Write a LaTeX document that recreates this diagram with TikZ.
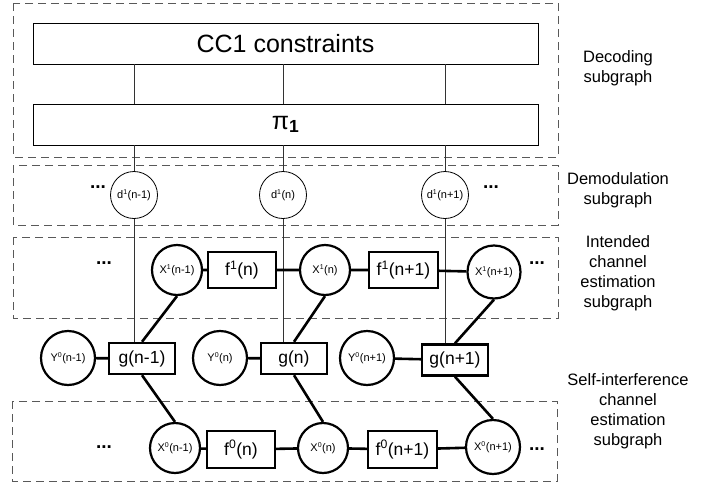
\documentclass[tikz,border=0pt]{standalone}
\usepackage{fontspec}
\setmainfont{Liberation Sans}
\usetikzlibrary{calc}

% small raised index used inside the variable nodes
\newcommand{\upidx}[1]{\textsuperscript{\fontsize{7}{8}\selectfont #1}}

\tikzset{
  var/.style={circle, draw, line width=2.2pt, minimum size=50pt, inner sep=0pt,
    font=\fontsize{11}{12}\selectfont},
  demod/.style={circle, draw, line width=0.8pt, minimum size=47pt, inner sep=0pt,
    font=\fontsize{11}{12}\selectfont},
  fac/.style={rectangle, draw, line width=2.4pt, minimum width=68pt, minimum height=36pt,
    inner sep=0pt, font=\fontsize{17.5}{20}\selectfont},
  gfac/.style={fac, minimum width=66pt, minimum height=31pt},
  bigbox/.style={rectangle, draw, line width=0.9pt, minimum width=505pt, minimum height=41pt,
    inner sep=0pt, font=\fontsize{25}{28}\selectfont},
  subbox/.style={draw=black!65, dash pattern=on 8pt off 5pt, line width=0.9pt},
  edge/.style={line width=2.6pt},
  wire/.style={black!80, line width=0.8pt},
  lbl/.style={align=center, font=\fontsize{16.5}{20}\selectfont},
  dots/.style={font=\bfseries\fontsize{19}{19}\selectfont, inner sep=0pt}
}

\begin{document}
\begin{tikzpicture}[x=1pt, y=-1pt]
  \useasboundingbox (0,0) rectangle (721,485);

  % subgraph frames
  \draw[subbox] (13,3) rectangle (558,157);
  \draw[subbox] (13,165) rectangle (558,225);
  \draw[subbox] (13,237) rectangle (558,318);
  \draw[subbox] (12,401) rectangle (557,481);

  \node[lbl] (labDec) at (618,68) {Decoding\\subgraph};
  \node[lbl] (labDem) at (618,190) {Demodulation\\subgraph};
  \node[lbl] (labInt) at (618,273) {Intended\\channel\\estimation\\subgraph};
  \node[lbl] (labSelf) at (628,411) {Self-interference\\channel\\estimation\\subgraph};

  % decoding part
  \node[bigbox] (cc) at (285.5,43.5) {CC1 constraints};
  \node[bigbox] (pi) at (285.5,124.5) {π\textsubscript{\bfseries 1}};

  % demodulation nodes
  \node[demod] (dA) at (134,195) {d\upidx{1}(n-1)};
  \node[demod] (dB) at (283,195) {d\upidx{1}(n)};
  \node[demod] (dC) at (445,195) {d\upidx{1}(n+1)};
  \node[dots] (dotsDL) at (98,187) {...};
  \node[dots] (dotsDR) at (491,187) {...};

  % intended channel chain
  \node[var] (xA) at (177,270) {X\upidx{1}(n-1)};
  \node[fac] (fA) at (242,270) {f\textsuperscript{1}(n)};
  \node[var] (xB) at (325,270) {X\upidx{1}(n)};
  \node[fac, minimum width=69pt] (fB) at (403.5,270) {f\textsuperscript{1}(n+1)};
  \node[var, minimum size=53pt] (xC) at (494,272) {X\upidx{1}(n+1)};
  \node[dots] (dotsIL) at (104,263) {...};
  \node[dots] (dotsIR) at (537,263) {...};

  % observations and g factors
  \node[var, minimum size=54pt] (yA) at (68,358) {Y\upidx{0}(n-1)};
  \node[gfac] (gA) at (142,358.5) {g(n-1)};
  \node[var, minimum size=54pt] (yB) at (220,358) {Y\upidx{0}(n)};
  \node[gfac] (gB) at (294,358.5) {g(n)};
  \node[var, minimum size=54pt] (yC) at (367,358) {Y\upidx{0}(n+1)};
  \node[gfac] (gC) at (455,360) {g(n+1)};

  % self-interference chain
  \node[var] (zA) at (175,448) {X\upidx{0}(n-1)};
  \node[fac, minimum height=37pt] (hA) at (241,449.5) {f\textsuperscript{0}(n)};
  \node[var] (zB) at (323,448) {X\upidx{0}(n)};
  \node[fac, minimum height=37pt, minimum width=69pt] (hB) at (402.5,449.5) {f\textsuperscript{0}(n+1)};
  \node[var, minimum size=54pt] (zC) at (493,447) {X\upidx{0}(n+1)};
  \node[dots] (dotsSL) at (104,447) {...};
  \node[dots] (dotsSR) at (537,449) {...};

  % thin wires from the decoder down to g
  \foreach \d/\g in {dA/gA, dB/gB, dC/gC} {
    \draw[wire] (cc.south -| \d) -- (pi.north -| \d);
    \draw[wire] (pi.south -| \d) -- (\d);
    \draw[wire] (\d) -- (\d |- \g.north);
  }

  % factor graph edges
  \draw[edge] (xA) -- (fA) -- (xB) -- (fB) -- (xC);
  \draw[edge] (zA) -- (hA) -- (zB) -- (hB) -- (zC);
  \foreach \y/\g/\x/\z in {yA/gA/xA/zA, yB/gB/xB/zB, yC/gC/xC/zC} {
    \draw[edge] (\y) -- (\g);
    \draw[edge] (\g.north) -- (\x.south);
    \draw[edge] (\g.south) -- (\z.north);
  }
\end{tikzpicture}
\end{document}
